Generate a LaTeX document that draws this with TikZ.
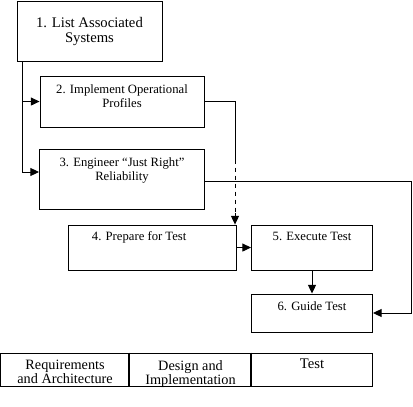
\documentclass[tikz,border=0pt]{standalone}
\usepackage{fontspec}
\setmainfont{Liberation Serif}
\usetikzlibrary{arrows.meta,positioning}

\begin{document}
\begin{tikzpicture}[>={Triangle[length=6.5pt,width=6pt]},line width=0.7pt,on grid,
		box/.style={draw,rectangle,inner sep=0pt},
		lbl/.style={anchor=north,align=center,inner sep=0pt,yshift=-6pt,font=\fontsize{9.5}{10}\selectfont},
		big/.style={font=\fontsize{11}{11.25}\selectfont},
		cell/.style={font=\fontsize{10.7}{10.3}\selectfont}]
		\useasboundingbox (0,0) rectangle (309.75pt,-304.5pt);
		\node[box,minimum width=108.75pt,minimum height=45pt,
		label={[lbl,big,yshift=-6pt]north:1. List Associated\\Systems}] (b1) at (67.1pt,-23.25pt) {};
		\node[box,minimum width=123pt,minimum height=38.25pt,below right=52.9pt and 24.4pt of b1,
		label={[lbl,yshift=-0.75pt]north:2. Implement Operational\\Profiles}] (b2) {};
		\node[box,minimum width=123.75pt,minimum height=45pt,below=58.1pt of b2,
		label={[lbl,yshift=-0.75pt]north:3. Engineer “Just Right”\\Reliability}] (b3) {};
		\node[box,minimum width=126pt,minimum height=33.75pt,below right=51.4pt and 22.9pt of b3,
		label={[lbl,xshift=-10pt,yshift=0.75pt]north:4. Prepare for Test}] (b4) {};
		\node[box,minimum width=90.75pt,minimum height=33.75pt,right=119.6pt of b4,
		label={[lbl,yshift=0.75pt]north:5. Execute Test}] (b5) {};
		\node[box,minimum width=90.75pt,minimum height=28.5pt,below=49.1pt of b5,
		label={[lbl,yshift=0.25pt]north:6. Guide Test}] (b6) {};
		% phases along the bottom
		\node[box,minimum width=90.75pt,minimum height=24.75pt,below=42.4pt of b6,
		label={[lbl,big,yshift=1.5pt]north:Test}] (c3) {};
		\node[box,minimum width=91.5pt,minimum height=24.75pt,left=91.1pt of c3,
		label={[lbl,cell,yshift=0.4pt]north:Design and\\Implementation}] (c2) {};
		\node[box,minimum width=96.75pt,minimum height=24.75pt,left=94.1pt of c2,
		label={[lbl,cell,yshift=0.4pt]north:Requirements\\and Architecture}] (c1) {};
		\draw[line width=1.3pt] (c2.north west) -- (c2.south west) (c3.north west) -- (c3.south west);
		\coordinate (trunk) at ([xshift=4.5pt]b1.south west);
		\coordinate (drop) at ([xshift=-1.5pt]b4.north east);
		\draw[->] (trunk) |- (b2.west);
		\draw[->] (trunk) |- ([yshift=5.25pt]b3.west);
		\draw (b2.east) -| ([yshift=48.75pt]drop);
		\draw[dashed] ([yshift=48.75pt]drop) -- ([yshift=9pt]drop);
		\draw[->] ([yshift=9pt]drop) -- (drop);
		\draw[->] ([yshift=-1.5pt]b3.east) -- ++(154.5pt,0) |- (b6.east);
		\draw[->] (b4) -- (b5);
		\draw[->] (b5) -- (b6);
\end{tikzpicture}
\end{document}
